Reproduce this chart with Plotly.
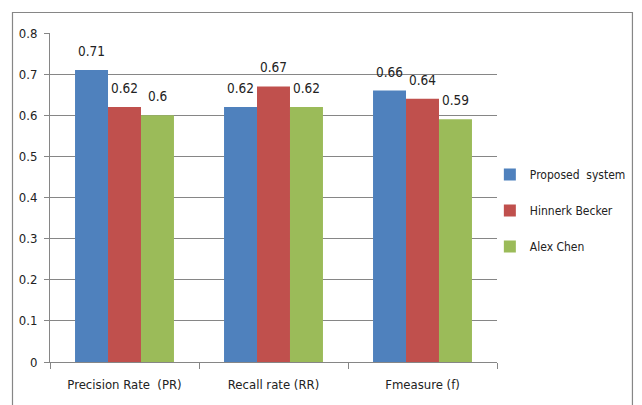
import plotly.graph_objects as go

categories = ["Precision Rate  (PR)", "Recall rate (RR)", "Fmeasure (f)"]
series_names = ["Proposed  system", "Hinnerk Becker", "Alex Chen"]
proposed = [0.71, 0.62, 0.66]
becker = [0.62, 0.67, 0.64]
chen = [0.6, 0.62, 0.59]
colors = ["#4F81BD", "#C0504D", "#9BBB59"]
y_ticks = [0, 0.1, 0.2, 0.3, 0.4, 0.5, 0.6, 0.7, 0.8]

FONT = "DejaVu Sans Condensed, Liberation Sans Narrow, sans-serif"
TEXT = "#222222"
GRAY = "#868686"
BARGAP = 0.336

series = [proposed, becker, chen]
n = len(series)
bar_w = (1 - BARGAP) / n

fig = go.Figure()
annotations = []
for i, (name, vals) in enumerate(zip(series_names, series)):
    fig.add_trace(go.Bar(
        x=categories, y=vals, name=name,
        marker=dict(color=colors[i], line=dict(width=0)),
        legendgroup=name,
    ))
    # value labels sitting a little above each bar
    for j, v in enumerate(vals):
        annotations.append(dict(
            x=j + (i - (n - 1) / 2) * bar_w, y=v, xref="x", yref="y",
            text=f"{v:g}", showarrow=False, yanchor="bottom", yshift=9,
            font=dict(size=13.5, color=TEXT, family=FONT),
        ))

fig.update_layout(
    width=642, height=405,
    margin=dict(l=50, r=145, t=33, b=43, autoexpand=False),
    paper_bgcolor="white", plot_bgcolor="white",
    barmode="group", bargap=BARGAP, bargroupgap=0,
    font=dict(family=FONT, size=13, color=TEXT),
    showlegend=True,
    legend=dict(x=0.984, y=0.614, xanchor="left", yanchor="top",
                font=dict(size=12, family=FONT, color=TEXT),
                tracegroupgap=17, itemwidth=30,
                bgcolor="rgba(0,0,0,0)"),
    xaxis=dict(showline=True, linecolor=GRAY, linewidth=1,
               ticks="outside", tickson="boundaries", ticklen=6,
               tickcolor=GRAY, showgrid=False, tickangle=0,
               ticklabelstandoff=10, automargin=False,
               tickfont=dict(size=13, family=FONT, color=TEXT)),
    yaxis=dict(range=[0, 0.8], tickvals=y_ticks,
               ticktext=[f"{v:g}" for v in y_ticks],
               showline=True, linecolor=GRAY, linewidth=1,
               ticks="outside", ticklen=5, tickcolor=GRAY,
               showgrid=True, gridcolor=GRAY, gridwidth=1,
               zeroline=False, automargin=False, ticklabelstandoff=4,
               tickfont=dict(size=13, family=FONT, color=TEXT)),
    annotations=annotations,
    shapes=[dict(type="rect", xref="paper", yref="paper",
                 x0=-0.0839, x1=1.303, y0=-0.16, y1=1.0623,
                 line=dict(color=GRAY, width=1.2), layer="below")],
)

fig.write_html("out.html")
